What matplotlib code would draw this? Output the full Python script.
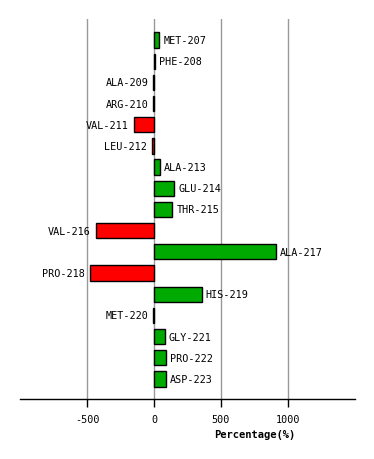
import matplotlib
matplotlib.use("Agg")
import matplotlib.pyplot as plt
from matplotlib.transforms import offset_copy

residues = ["MET-207", "PHE-208", "ALA-209", "ARG-210", "VAL-211", "LEU-212",
            "ALA-213", "GLU-214", "THR-215", "VAL-216", "ALA-217", "PRO-218",
            "HIS-219", "MET-220", "GLY-221", "PRO-222", "ASP-223"]
values = [40, 5, -5, -5, -150, -15, 47, 150, 137, -433, 911, -478, 356, -5, 79, 90, 90]
xticks = [-500, 0, 500, 1000]

fig = plt.figure(figsize=(3.74, 4.6), dpi=100)
ax = fig.add_axes([20/374, 1-400/460, 335/374, 380/460])
font = "DejaVu Sans Mono"
fs = 7.3

ypos = list(range(len(residues)))
colors = ["#00aa00" if v > 0 else "#ff0000" for v in values]
ax.barh(ypos, values, height=0.72, color=colors, edgecolor="black", linewidth=1.0, zorder=3)

ax.set_xlim(-1000, 1500)
ax.set_ylim(16.95, -0.99)
for t in xticks:
    ax.axvline(t, color="#999999", linewidth=1.0, zorder=1)

for y, v, name in zip(ypos, values, residues):
    if v > 0:
        tr = offset_copy(ax.transData, fig=fig, x=4, y=0, units="dots")
        ax.text(v, y, name, ha="left", va="center", fontsize=fs, family=font, transform=tr)
    else:
        tr = offset_copy(ax.transData, fig=fig, x=-5, y=0, units="dots")
        ax.text(v, y, name, ha="right", va="center", fontsize=fs, family=font, transform=tr)

ax.set_xticks(xticks)
ax.set_xticklabels([str(t) for t in xticks], fontsize=fs, family=font)
ax.set_yticks([])
for s in ["top", "left", "right"]:
    ax.spines[s].set_visible(False)
ax.spines["bottom"].set_linewidth(1.0)
ax.tick_params(axis="x", length=6, width=1, pad=5)

fig.text(255/374, 1-435/460, "Percentage(%)", ha="center", va="center",
         fontsize=7.5, family=font, fontweight="bold")

fig.savefig("out.png", dpi=100)
